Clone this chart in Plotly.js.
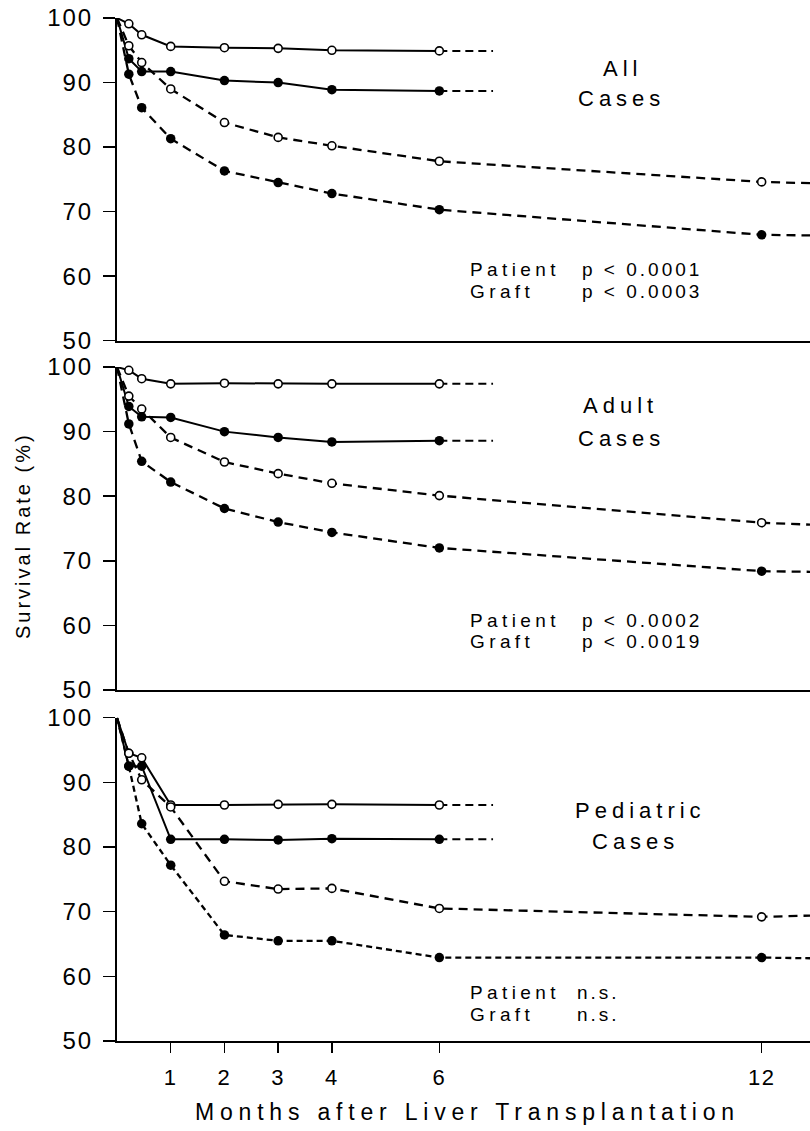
<!DOCTYPE html>
<html><head><meta charset="utf-8">
<script src="https://cdn.plot.ly/plotly-3.0.1.min.js"></script>
<style>
html,body{margin:0;padding:0;background:#fff;}
#chart{width:810px;height:1131px;}
.ytick text,.y2tick text,.y3tick text{letter-spacing:2px;}
.x3tick text{letter-spacing:1.5px;}
</style></head><body><div id="chart"></div>
<script>
// ---- data ----
const monthsSolid = [0, 0.22, 0.46, 1, 2, 3, 4, 6];
const monthsDashed = [0, 0.22, 0.46, 1, 2, 3, 4, 6, 12, 12.9];
const tailMonths = [6, 7];
const yTicks = [50, 60, 70, 80, 90, 100];
const xTicks = [1, 2, 3, 4, 6, 12];

// All cases
const allPatientSolid  = [100, 99.1, 97.4, 95.6, 95.4, 95.3, 95.0, 94.9];
const allGraftSolid    = [100, 93.7, 91.7, 91.7, 90.3, 90.0, 88.9, 88.7];
const allPatientDashed = [100, 95.7, 93.1, 89.0, 83.8, 81.5, 80.2, 77.8, 74.6, 74.4];
const allGraftDashed   = [100, 91.3, 86.1, 81.3, 76.3, 74.5, 72.8, 70.3, 66.4, 66.3];
// Adult cases
const adultPatientSolid  = [100, 99.5, 98.2, 97.4, 97.5, 97.4, 97.4, 97.4];
const adultGraftSolid    = [100, 93.9, 92.3, 92.2, 90.0, 89.1, 88.4, 88.6];
const adultPatientDashed = [100, 95.5, 93.5, 89.1, 85.3, 83.5, 82.0, 80.1, 75.9, 75.6];
const adultGraftDashed   = [100, 91.2, 85.4, 82.2, 78.1, 76.0, 74.4, 72.0, 68.4, 68.3];
// Pediatric cases
const pedPatientSolid  = [100, 94.5, 93.8, 86.5, 86.5, 86.6, 86.6, 86.5];
const pedGraftSolid    = [100, 92.5, 92.5, 81.2, 81.2, 81.1, 81.3, 81.2];
const pedPatientDashed = [100, 94.5, 90.4, 86.2, 74.7, 73.5, 73.6, 70.5, 69.2, 69.4];
const pedGraftDashed   = [100, 92.5, 83.6, 77.2, 66.4, 65.5, 65.5, 62.9, 62.9, 62.8];

const panelTitles = [["All", "Cases"], ["Adult", "Cases"], ["Pediatric", "Cases"]];
const pPatient = ["p < 0.0001", "p < 0.0002", "n.s."];
const pGraft   = ["p < 0.0003", "p < 0.0019", "n.s."];

// ---- build ----
const FONT = 'Liberation Sans, Arial, Helvetica, sans-serif';
const traces = [];
function panel(k, pS, gS, pD, gD, graftDash) {
  const xa = k === 1 ? 'x' : 'x' + k, ya = k === 1 ? 'y' : 'y' + k;
  const line = (x, y, dash, w) => ({x, y, xaxis: xa, yaxis: ya, mode: 'lines', type: 'scatter',
    line: {color: '#000', width: w, dash: dash}, hoverinfo: 'skip', showlegend: false, cliponaxis: false});
  traces.push(line(monthsSolid, pS, 'solid', 2));
  traces.push(line(monthsSolid, gS, 'solid', 2));
  traces.push(line(tailMonths, [pS[7], pS[7]], '8px,5px', 2));
  traces.push(line(tailMonths, [gS[7], gS[7]], '8px,5px', 2));
  traces.push(line(monthsDashed, pD, '9px,6px', 2.3));
  traces.push(line(monthsDashed, gD, graftDash, 2.3));
  const mk = (x, y, open) => ({x, y, xaxis: xa, yaxis: ya, mode: 'markers', type: 'scatter',
    marker: open ? {symbol: 'circle', size: 8, color: '#fff', line: {color: '#000', width: 1.6}}
                 : {symbol: 'circle', size: 9.5, color: '#000', line: {width: 0}},
    hoverinfo: 'skip', showlegend: false, cliponaxis: false});
  traces.push(mk(monthsSolid.slice(1), pS.slice(1), true));
  traces.push(mk(monthsDashed.slice(1, 9), pD.slice(1, 9), true));
  traces.push(mk(monthsSolid.slice(1), gS.slice(1), false));
  traces.push(mk(monthsDashed.slice(1, 9), gD.slice(1, 9), false));
}
panel(1, allPatientSolid, allGraftSolid, allPatientDashed, allGraftDashed, '9px,6px');
panel(2, adultPatientSolid, adultGraftSolid, adultPatientDashed, adultGraftDashed, '9px,6px');
panel(3, pedPatientSolid, pedGraftSolid, pedPatientDashed, pedGraftDashed, '6px,4px');

const xBase = {range: [0, 12.9], domain: [0, 1], showline: true, linewidth: 2, linecolor: '#000',
  showgrid: false, zeroline: false, fixedrange: true};
const yBase = {range: [50, 100], showline: true, linewidth: 2, linecolor: '#000', showgrid: false,
  zeroline: false, ticks: 'outside', ticklen: 12, tickwidth: 1.5, tickcolor: '#000',
  tickvals: yTicks, ticktext: yTicks.map(String), ticklabelstandoff: 5,
  tickfont: {family: FONT, size: 24, color: '#000'}, fixedrange: true};

const ls = (t, px) => `<span style="letter-spacing:${px}px">${t}</span>`;
const annotations = [];
const P = (px) => (px - 117) / 693;
const Q = (py) => (1041 - py) / 1023;
const titlePos = [[[622.7, 68.3], [621.7, 98.3]], [[620, 405.7], [621.7, 438.3]], [[640.5, 810], [635.3, 841.7]]];
const pLineY = [[269.3, 291.7], [620.7, 641.7], [992.3, 1014.3]];
const pvalX = [580, 580, 575];
for (let i = 0; i < 3; i++) {
  for (let j = 0; j < 2; j++) {
    annotations.push({xref: 'paper', yref: 'paper', x: P(titlePos[i][j][0]), y: Q(titlePos[i][j][1]),
      xanchor: 'center', yanchor: 'middle', showarrow: false,
      text: ls(panelTitles[i][j], 5), font: {family: FONT, size: 22, color: '#000'}});
  }
  const rows = [["Patient", pPatient[i]], ["Graft", pGraft[i]]];
  rows.forEach((r, j) => {
    annotations.push({xref: 'paper', yref: 'paper', x: P(467.5), y: Q(pLineY[i][j]),
      xanchor: 'left', yanchor: 'middle', align: 'left', showarrow: false,
      text: ls(r[0], 4.4), font: {family: FONT, size: 19, color: '#000'}});
    annotations.push({xref: 'paper', yref: 'paper', x: P(pvalX[i]), y: Q(pLineY[i][j]),
      xanchor: 'left', yanchor: 'middle', align: 'left', showarrow: false,
      text: ls(r[1], 3), font: {family: FONT, size: 19, color: '#000'}});
  });
}
annotations.push({xref: 'paper', yref: 'paper', x: P(23), y: Q(536), textangle: -90,
  xanchor: 'center', yanchor: 'middle', showarrow: false,
  text: ls("Survival Rate (%)", 3), font: {family: FONT, size: 20, color: '#000'}});
annotations.push({xref: 'paper', yref: 'paper', x: P(467), y: Q(1112),
  xanchor: 'center', yanchor: 'middle', showarrow: false,
  text: ls("Months after Liver Transplantation", 5.8), font: {family: FONT, size: 23, color: '#000'}});

const layout = {
  width: 810, height: 1131, margin: {l: 117, r: 0, t: 18, b: 90},
  paper_bgcolor: '#fff', plot_bgcolor: '#fff', showlegend: false,
  xaxis: Object.assign({}, xBase, {anchor: 'y', ticks: '', showticklabels: false}),
  xaxis2: Object.assign({}, xBase, {anchor: 'y2', ticks: '', showticklabels: false}),
  xaxis3: Object.assign({}, xBase, {anchor: 'y3', ticks: 'outside', ticklen: 10, tickwidth: 1.5,
    tickcolor: '#000', tickvals: xTicks, ticktext: xTicks.map(String), ticklabelstandoff: 6,
    tickfont: {family: FONT, size: 22, color: '#000'}}),
  yaxis: Object.assign({}, yBase, {anchor: 'x', domain: [0.6846, 1]}),
  yaxis2: Object.assign({}, yBase, {anchor: 'x2', domain: [0.3431, 0.6588]}),
  yaxis3: Object.assign({}, yBase, {anchor: 'x3', domain: [0, 0.316]}),
  annotations: annotations
};
Plotly.newPlot('chart', traces, layout, {staticPlot: true, displayModeBar: false});
</script></body></html>
